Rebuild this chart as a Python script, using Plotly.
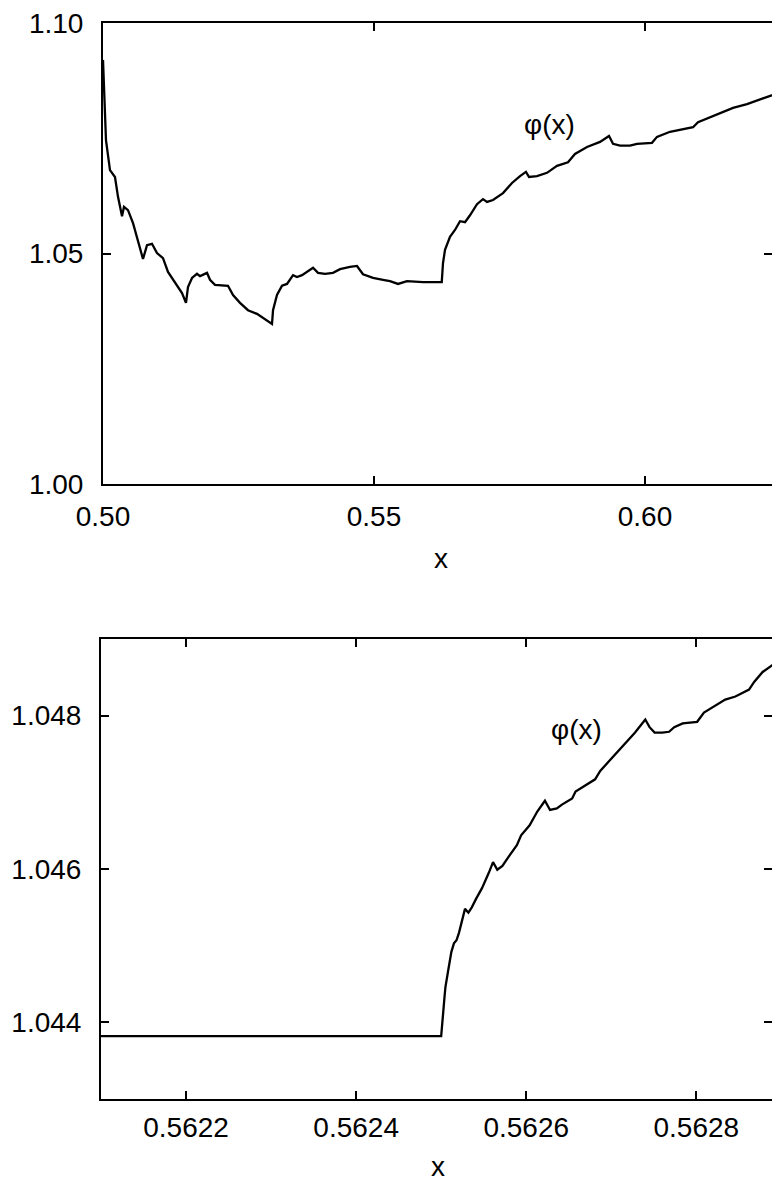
import plotly.graph_objects as go

# ---- top panel data ----
top_x = [0.5000, 0.50018, 0.50055, 0.50129, 0.50221, 0.50277, 0.50351, 0.50387, 0.50461, 0.50554,
         0.50646, 0.50738, 0.50812, 0.50904, 0.50996, 0.51107, 0.51199, 0.51328, 0.51458, 0.51531,
         0.51568, 0.51642, 0.51734, 0.51790, 0.51919, 0.51974, 0.52066, 0.52306, 0.52399, 0.52528,
         0.52675, 0.52841, 0.52952, 0.53118, 0.53137, 0.53210, 0.53303, 0.53395, 0.53506, 0.53579,
         0.53672, 0.53764, 0.53875, 0.53967, 0.54096, 0.54244, 0.54373, 0.54557, 0.54686, 0.54797,
         0.54982, 0.55166, 0.55295, 0.55443, 0.55609, 0.55904, 0.56250, 0.56273, 0.56310, 0.56402,
         0.56494, 0.56587, 0.56679, 0.56771, 0.56900, 0.57011, 0.57085, 0.57196, 0.57380, 0.57546,
         0.57694, 0.57804, 0.57860, 0.58007, 0.58192, 0.58376, 0.58579, 0.58708, 0.58930, 0.59170,
         0.59336, 0.59410, 0.59539, 0.59723, 0.59852, 0.60129, 0.60221, 0.60461, 0.60701, 0.60886,
         0.60978, 0.61255, 0.61624, 0.61882, 0.62177, 0.62343, 0.6250]
top_y = [1.0920, 1.0844, 1.0746, 1.0681, 1.0666, 1.0623, 1.0581, 1.0601, 1.0594, 1.0566,
         1.0529, 1.0488, 1.0518, 1.0521, 1.0501, 1.0490, 1.0460, 1.0436, 1.0414, 1.0393,
         1.0427, 1.0447, 1.0456, 1.0451, 1.0458, 1.0443, 1.0432, 1.0430, 1.0410, 1.0393,
         1.0377, 1.0369, 1.0360, 1.0347, 1.0377, 1.0410, 1.0430, 1.0434, 1.0453, 1.0449,
         1.0453, 1.0460, 1.0469, 1.0458, 1.0456, 1.0458, 1.0466, 1.0471, 1.0473, 1.0455,
         1.0447, 1.0443, 1.0440, 1.0434, 1.0440, 1.0438, 1.0438, 1.0479, 1.0508, 1.0536,
         1.0551, 1.0570, 1.0568, 1.0583, 1.0607, 1.0618, 1.0612, 1.0616, 1.0631, 1.0653,
         1.0668, 1.0677, 1.0666, 1.0668, 1.0675, 1.0690, 1.0698, 1.0716, 1.0731, 1.0742,
         1.0755, 1.0738, 1.0734, 1.0734, 1.0738, 1.0740, 1.0753, 1.0764, 1.0770, 1.0774,
         1.0785, 1.0798, 1.0816, 1.0824, 1.0837, 1.0844, 1.0850]
top_xticks = [0.50, 0.55, 0.60]
top_yticks = [1.00, 1.05, 1.10]

# ---- bottom panel data ----
bot_x = [0.56210, 0.562500, 0.562504, 0.562505, 0.562508, 0.562512, 0.562515, 0.562518, 0.562521,
         0.562525, 0.562528, 0.562532, 0.562536, 0.562541, 0.562548, 0.562556, 0.562561, 0.562566,
         0.562572, 0.562580, 0.562589, 0.562594, 0.562604, 0.562613, 0.562622, 0.562628, 0.562636,
         0.562642, 0.562654, 0.562658, 0.562672, 0.562681, 0.562687, 0.562699, 0.562713, 0.562728,
         0.562740, 0.562745, 0.562751, 0.562760, 0.562768, 0.562774, 0.562784, 0.562801, 0.562809,
         0.562821, 0.562834, 0.562846, 0.562862, 0.562868, 0.562878, 0.562892, 0.562900]
bot_y = [1.04382, 1.04382, 1.04434, 1.04446, 1.04466, 1.04492, 1.04503, 1.04507, 1.04517,
         1.04537, 1.04548, 1.04543, 1.04550, 1.04561, 1.04575, 1.04595, 1.04609, 1.04599,
         1.04604, 1.04617, 1.04631, 1.04644, 1.04657, 1.04675, 1.04689, 1.04677, 1.04679,
         1.04684, 1.04692, 1.04701, 1.04711, 1.04717, 1.04728, 1.04743, 1.04760, 1.04778,
         1.04795, 1.04785, 1.04778, 1.04778, 1.04779, 1.04785, 1.04790, 1.04792, 1.04804,
         1.04812, 1.04821, 1.04825, 1.04834, 1.04844, 1.04857, 1.04868, 1.04875]
bot_xticks = [0.5622, 0.5624, 0.5626, 0.5628]
bot_yticks = [1.044, 1.046, 1.048]

series_label = "φ(x)"
axis_label = "x"

W, H = 772, 1184
FONT = "Liberation Sans, Arial, Helvetica, sans-serif"
FS = 28

fig = go.Figure()
fig.add_trace(go.Scatter(x=top_x, y=top_y, mode="lines",
                         line=dict(color="black", width=2.3), xaxis="x", yaxis="y",
                         showlegend=False, hoverinfo="skip"))
fig.add_trace(go.Scatter(x=bot_x, y=bot_y, mode="lines",
                         line=dict(color="black", width=2.3), xaxis="x2", yaxis="y2",
                         showlegend=False, hoverinfo="skip"))

common_ax = dict(showline=True, linecolor="black", linewidth=2, ticks="inside",
                 ticklen=8, tickwidth=1.5, tickcolor="black", showgrid=False,
                 zeroline=False, mirror="ticks", automargin=False,
                 tickfont=dict(family=FONT, size=FS, color="black"))
xax = dict(common_ax, ticklabelstandoff=6)
yax = dict(common_ax, ticklabelstandoff=12)

fig.update_layout(
    width=W, height=H,
    margin=dict(l=0, r=0, t=0, b=0),
    paper_bgcolor="white", plot_bgcolor="white",
    xaxis=dict(xax, domain=[103 / W, 1.0], range=[0.5, 0.62343], anchor="y",
               tickvals=top_xticks, tickformat=".2f"),
    yaxis=dict(yax, domain=[1 - 484 / H, 1 - 23 / H], range=[1.0, 1.10], anchor="x",
               tickvals=top_yticks, tickformat=".2f"),
    xaxis2=dict(xax, domain=[101 / W, 1.0], range=[0.5621, 0.562889], anchor="y2",
                tickvals=bot_xticks, tickformat=".4f", ticklabelstandoff=2),
    yaxis2=dict(yax, domain=[1 - 1099 / H, 1 - 639 / H], range=[1.043, 1.049], anchor="x2",
                tickvals=bot_yticks, tickformat=".3f"),
    annotations=[
        dict(text=series_label, x=0.58247, y=1.07809, xref="x", yref="y", showarrow=False,
             font=dict(family=FONT, size=FS, color="black")),
        dict(text=series_label, x=0.562659, y=1.04782, xref="x2", yref="y2", showarrow=False,
             font=dict(family=FONT, size=FS, color="black")),
        dict(text=axis_label, x=441 / W, y=1 - 558 / H, xref="paper", yref="paper",
             showarrow=False, xanchor="center", yanchor="middle",
             font=dict(family=FONT, size=FS, color="black")),
        dict(text=axis_label, x=438 / W, y=1 - 1166 / H, xref="paper", yref="paper",
             showarrow=False, xanchor="center", yanchor="middle",
             font=dict(family=FONT, size=FS, color="black")),
    ],
)

fig.write_html("out.html", config={"displayModeBar": False},
               post_script="document.body.style.margin='0';document.body.style.overflow='hidden';")
